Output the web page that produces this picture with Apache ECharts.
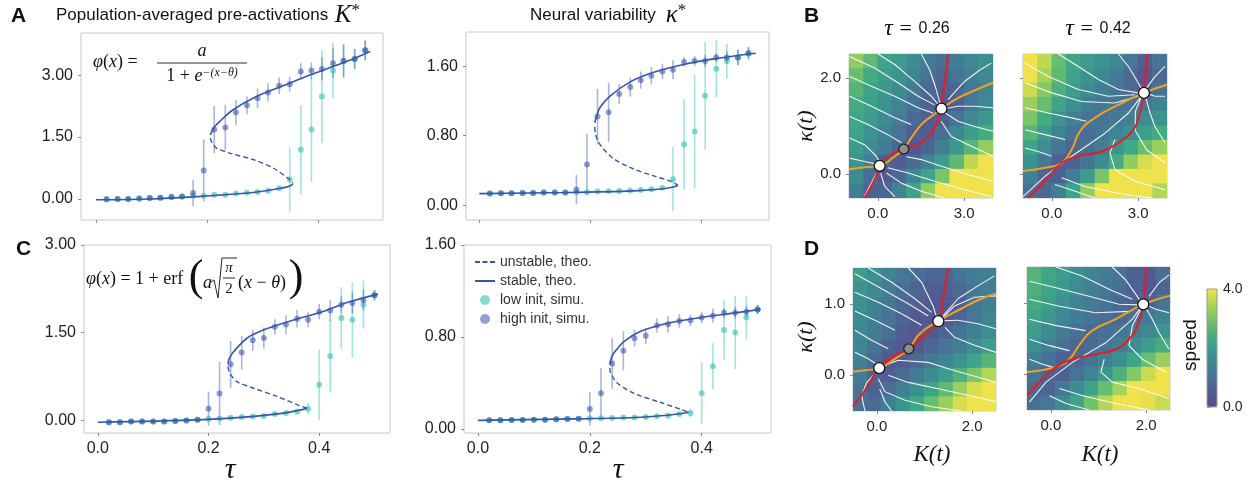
<!DOCTYPE html>
<html>
<head>
<meta charset="utf-8">
<script src="https://cdn.jsdelivr.net/npm/echarts@6/dist/echarts.min.js"></script>
<style>
  html, body { margin: 0; padding: 0; background: #fff; }
  #chart { width: 1260px; height: 483px; }
</style>
</head>
<body>
<div id="chart"></div>
<script>
// tau grids of the simulations
var tauA = [0.019, 0.039, 0.058, 0.078, 0.097, 0.116, 0.136, 0.155, 0.175, 0.194, 0.213, 0.233, 0.252,
            0.272, 0.291, 0.310, 0.330, 0.349, 0.369, 0.388, 0.407, 0.427, 0.446, 0.466, 0.485];
var tauC = [0.02, 0.04, 0.06, 0.08, 0.10, 0.12, 0.14, 0.16, 0.18, 0.20, 0.22, 0.24, 0.26,
            0.28, 0.30, 0.32, 0.34, 0.36, 0.38, 0.40, 0.42, 0.44, 0.46, 0.48, 0.50];

// A, K*  (sigmoid)
var aK_lowMean  = [-0.01, 0.0, 0.0, 0.01, 0.02, 0.03, 0.05, 0.06, 0.08, 0.08, 0.10, 0.10, 0.13, 0.15, 0.17, 0.20, 0.26, 0.47, 1.19, 1.68, 2.48, 3.11, 3.33, 3.39, 3.60];
var aK_lowErr   = [0.02, 0.02, 0.02, 0.02, 0.02, 0.02, 0.02, 0.02, 0.03, 0.03, 0.03, 0.03, 0.03, 0.03, 0.04, 0.04, 0.05, 0.77, 1.08, 1.26, 1.13, 0.67, 0.40, 0.24, 0.24];
var aK_highMean = [-0.01, 0.0, 0.0, 0.01, 0.02, 0.03, 0.05, 0.06, 0.145, 0.69, 1.68, 1.73, 2.10, 2.27, 2.44, 2.58, 2.74, 2.78, 3.09, 3.11, 3.15, 3.29, 3.35, 3.39, 3.60];
var aK_highErr  = [0.02, 0.02, 0.02, 0.02, 0.02, 0.02, 0.02, 0.02, 0.32, 0.75, 0.57, 0.55, 0.30, 0.22, 0.24, 0.22, 0.20, 0.18, 0.20, 0.20, 0.28, 0.36, 0.40, 0.24, 0.24];
var aK_stableLow  = [[0, -0.02], [0.1, 0.0], [0.175, 0.05], [0.25, 0.12], [0.29, 0.17], [0.333, 0.26], [0.348, 0.31], [0.355, 0.36]];
var aK_stableHigh = [[0.206, 1.55], [0.212, 1.72], [0.223, 1.88], [0.247, 2.16], [0.289, 2.48], [0.337, 2.74], [0.385, 3.0], [0.427, 3.21], [0.463, 3.39], [0.494, 3.57]];
var aK_unstable   = [[0.206, 1.47], [0.209, 1.36], [0.217, 1.23], [0.241, 1.11], [0.284, 0.95], [0.319, 0.75], [0.349, 0.47], [0.355, 0.38]];

// A, kappa*
var aV_lowMean  = [0.134, 0.138, 0.138, 0.142, 0.142, 0.146, 0.146, 0.146, 0.15, 0.15, 0.157, 0.16, 0.165, 0.17, 0.176, 0.184, 0.20, 0.30, 0.70, 0.85, 1.26, 1.57, 1.66, 1.70, 1.75];
var aV_lowErr   = [0.01, 0.01, 0.01, 0.01, 0.01, 0.01, 0.01, 0.01, 0.02, 0.02, 0.02, 0.02, 0.02, 0.02, 0.02, 0.02, 0.02, 0.37, 0.52, 0.65, 0.62, 0.33, 0.20, 0.09, 0.07];
var aV_highMean = [0.134, 0.138, 0.138, 0.142, 0.142, 0.146, 0.146, 0.146, 0.18, 0.47, 1.02, 1.07, 1.28, 1.36, 1.44, 1.49, 1.54, 1.56, 1.65, 1.66, 1.66, 1.70, 1.70, 1.70, 1.75];
var aV_highErr  = [0.01, 0.01, 0.01, 0.01, 0.01, 0.01, 0.01, 0.01, 0.17, 0.35, 0.32, 0.34, 0.115, 0.11, 0.10, 0.10, 0.09, 0.11, 0.06, 0.06, 0.07, 0.05, 0.07, 0.09, 0.07];
var aV_stableLow  = [[0, 0.134], [0.158, 0.146], [0.278, 0.165], [0.332, 0.19], [0.350, 0.21], [0.358, 0.23]];
var aV_stableHigh = [[0.208, 0.95], [0.211, 1.02], [0.218, 1.13], [0.236, 1.26], [0.272, 1.42], [0.314, 1.53], [0.368, 1.62], [0.428, 1.69], [0.498, 1.75]];
var aV_unstable   = [[0.208, 0.90], [0.209, 0.83], [0.213, 0.75], [0.222, 0.66], [0.241, 0.54], [0.277, 0.42], [0.313, 0.34], [0.343, 0.28], [0.358, 0.23]];

// C, K*  (erf)
var cK_lowMean  = [-0.03, -0.03, -0.02, -0.02, -0.02, -0.02, -0.01, 0.0, 0.01, 0.03, 0.034, 0.045, 0.057, 0.068, 0.074, 0.108, 0.125, 0.15, 0.20, 0.61, 1.10, 1.75, 1.72, 1.98, 2.14];
var cK_lowErr   = [0.02, 0.02, 0.02, 0.02, 0.02, 0.02, 0.02, 0.02, 0.02, 0.03, 0.03, 0.03, 0.03, 0.03, 0.03, 0.03, 0.03, 0.03, 0.10, 0.60, 0.62, 0.53, 0.64, 0.41, 0.09];
var cK_highMean = [-0.03, -0.03, -0.02, -0.02, -0.02, -0.02, -0.01, 0.0, 0.01, 0.20, 0.46, 0.96, 1.16, 1.37, 1.41, 1.60, 1.64, 1.74, 1.72, 1.86, 1.88, 1.98, 2.01, 2.06, 2.14];
var cK_highErr  = [0.02, 0.02, 0.02, 0.02, 0.02, 0.02, 0.02, 0.02, 0.02, 0.29, 0.54, 0.40, 0.29, 0.18, 0.18, 0.13, 0.16, 0.15, 0.13, 0.13, 0.18, 0.14, 0.18, 0.18, 0.09];
var cK_stableLow  = [[0, -0.03], [0.179, 0.01], [0.282, 0.07], [0.336, 0.125], [0.367, 0.18], [0.378, 0.21]];
var cK_stableHigh = [[0.235, 0.97], [0.238, 1.07], [0.245, 1.17], [0.27, 1.41], [0.306, 1.57], [0.355, 1.72], [0.403, 1.85], [0.452, 2.02], [0.506, 2.16]];
var cK_unstable   = [[0.235, 0.92], [0.239, 0.80], [0.252, 0.66], [0.282, 0.55], [0.324, 0.41], [0.36, 0.27], [0.378, 0.21]];

// C, kappa*
var cV_lowMean  = [0.075, 0.075, 0.078, 0.078, 0.081, 0.081, 0.084, 0.087, 0.09, 0.093, 0.093, 0.096, 0.10, 0.10, 0.104, 0.11, 0.116, 0.13, 0.14, 0.31, 0.545, 0.86, 0.84, 0.97, 1.04];
var cV_lowErr   = [0.01, 0.01, 0.01, 0.01, 0.01, 0.01, 0.01, 0.01, 0.01, 0.015, 0.015, 0.015, 0.015, 0.015, 0.015, 0.015, 0.015, 0.015, 0.04, 0.27, 0.20, 0.26, 0.32, 0.19, 0.04];
var cV_highMean = [0.075, 0.075, 0.078, 0.078, 0.081, 0.081, 0.084, 0.087, 0.09, 0.174, 0.31, 0.57, 0.68, 0.79, 0.81, 0.90, 0.91, 0.94, 0.945, 0.97, 0.985, 1.01, 1.01, 1.02, 1.04];
var cV_highErr  = [0.01, 0.01, 0.01, 0.01, 0.01, 0.01, 0.01, 0.01, 0.01, 0.145, 0.22, 0.22, 0.17, 0.075, 0.07, 0.06, 0.07, 0.06, 0.05, 0.05, 0.06, 0.04, 0.05, 0.05, 0.04];
var cV_stableLow  = [[0, 0.075], [0.198, 0.09], [0.279, 0.10], [0.339, 0.12], [0.365, 0.135], [0.377, 0.145]];
var cV_stableHigh = [[0.236, 0.56], [0.238, 0.61], [0.243, 0.66], [0.261, 0.76], [0.291, 0.85], [0.339, 0.92], [0.4, 0.97], [0.46, 1.01], [0.505, 1.04]];
var cV_unstable   = [[0.236, 0.53], [0.237, 0.49], [0.249, 0.40], [0.279, 0.31], [0.327, 0.23], [0.363, 0.17], [0.377, 0.145]];

// speed fields, rows top -> bottom, cols left -> right
var speedB1 = [
  [3.2, 2.7, 2.2, 2.0, 1.6, 1.2, 0.9, 1.2, 1.5, 1.7],
  [2.8, 2.4, 2.0, 1.8, 1.4, 1.0, 0.7, 1.0, 1.3, 1.5],
  [2.6, 2.2, 1.9, 1.6, 1.2, 0.8, 0.5, 0.7, 1.1, 1.4],
  [2.4, 2.1, 1.8, 1.4, 1.0, 0.6, 0.3, 0.6, 1.1, 1.5],
  [2.3, 2.0, 1.6, 1.2, 0.8, 0.5, 0.6, 1.0, 1.5, 1.9],
  [2.2, 1.8, 1.4, 1.0, 0.5, 0.5, 0.9, 1.5, 2.0, 2.4],
  [2.0, 1.6, 1.2, 0.7, 0.3, 0.7, 1.3, 1.9, 2.6, 3.2],
  [1.8, 1.3, 0.7, 0.5, 0.8, 1.4, 2.0, 2.7, 3.6, 4.0],
  [1.6, 0.9, 0.4, 0.8, 1.5, 2.2, 3.0, 4.0, 4.0, 4.0],
  [1.3, 0.7, 0.7, 1.4, 2.2, 3.2, 4.0, 4.0, 4.0, 4.0]
];
var speedB2 = [
  [4.0, 3.6, 2.8, 2.3, 2.0, 1.8, 1.5, 1.1, 0.6, 1.0],
  [4.0, 3.4, 2.7, 2.2, 1.8, 1.5, 1.2, 0.8, 0.3, 0.8],
  [3.7, 3.1, 2.5, 2.0, 1.6, 1.3, 1.0, 0.8, 0.6, 1.0],
  [3.3, 2.8, 2.2, 1.7, 1.3, 1.1, 1.0, 1.0, 1.1, 1.4],
  [3.0, 2.4, 1.8, 1.3, 1.0, 1.0, 1.1, 1.3, 1.6, 1.8],
  [2.6, 2.0, 1.4, 1.0, 0.9, 1.1, 1.4, 1.7, 2.1, 2.4],
  [2.2, 1.6, 1.0, 0.7, 0.9, 1.3, 1.8, 2.3, 2.8, 3.3],
  [1.7, 1.1, 0.5, 0.6, 1.0, 1.6, 2.4, 3.2, 3.8, 4.0],
  [1.3, 0.7, 0.6, 1.2, 2.0, 3.0, 4.0, 4.0, 4.0, 4.0],
  [0.9, 0.8, 1.3, 2.2, 3.2, 4.0, 4.0, 4.0, 4.0, 3.5]
];
var speedD1 = [
  [2.0, 1.7, 1.4, 1.1, 0.9, 0.7, 0.7, 1.0, 1.2, 1.3],
  [1.8, 1.5, 1.2, 0.9, 0.7, 0.5, 0.5, 0.8, 1.1, 1.3],
  [1.7, 1.4, 1.1, 0.8, 0.6, 0.4, 0.3, 0.6, 1.0, 1.3],
  [1.6, 1.3, 1.0, 0.7, 0.4, 0.3, 0.4, 0.7, 1.1, 1.4],
  [1.5, 1.2, 0.9, 0.5, 0.3, 0.4, 0.7, 1.0, 1.3, 1.6],
  [1.4, 1.0, 0.6, 0.3, 0.4, 0.7, 1.0, 1.3, 1.6, 2.0],
  [1.3, 0.8, 0.4, 0.5, 0.8, 1.1, 1.4, 1.8, 2.2, 2.6],
  [1.2, 0.6, 0.5, 0.8, 1.2, 1.6, 2.0, 2.5, 3.0, 3.5],
  [1.0, 0.6, 0.9, 1.3, 1.7, 2.2, 2.7, 3.3, 3.8, 4.0],
  [0.9, 0.8, 1.3, 1.8, 2.3, 2.8, 3.3, 3.8, 4.0, 4.0]
];
var speedD2 = [
  [2.6, 2.3, 2.0, 1.7, 1.4, 1.2, 1.0, 0.6, 0.4, 0.9],
  [2.5, 2.2, 1.9, 1.6, 1.3, 1.1, 0.9, 0.6, 0.3, 0.7],
  [2.4, 2.1, 1.7, 1.4, 1.2, 1.0, 0.8, 0.6, 0.6, 1.0],
  [2.2, 1.9, 1.5, 1.2, 1.0, 0.9, 0.8, 0.9, 1.1, 1.4],
  [2.0, 1.6, 1.2, 0.9, 0.8, 0.9, 1.0, 1.2, 1.5, 1.8],
  [1.7, 1.3, 0.9, 0.7, 0.8, 1.0, 1.3, 1.6, 2.0, 2.4],
  [1.3, 0.9, 0.6, 0.7, 1.0, 1.3, 1.7, 2.2, 2.8, 3.3],
  [1.0, 0.6, 0.6, 1.0, 1.4, 1.9, 2.5, 3.1, 3.7, 4.0],
  [0.8, 0.7, 1.1, 1.6, 2.2, 2.8, 3.4, 4.0, 4.0, 4.0],
  [0.9, 1.1, 1.6, 2.2, 2.9, 3.5, 4.0, 4.0, 3.9, 3.7]
];

// nullclines (K(t), kappa(t))
var redB1    = [[-0.46, -0.5], [-0.11, -0.12], [0.065, 0.17], [0.35, 0.37], [0.90, 0.52], [1.40, 0.61], [1.74, 0.78], [2.03, 1.03], [2.21, 1.36], [2.30, 1.83], [2.38, 2.17], [2.44, 2.5]];
var orangeB1 = [[-1.0, 0.10], [-0.46, 0.14], [0.065, 0.17], [0.59, 0.37], [0.90, 0.52], [1.16, 0.75], [1.51, 1.03], [1.86, 1.20], [2.21, 1.36], [2.78, 1.58], [3.48, 1.77], [4.0, 1.9]];
var redB2    = [[-0.81, -0.5], [-0.24, -0.15], [0.34, 0.23], [0.92, 0.37], [1.73, 0.47], [2.31, 0.65], [2.83, 0.92], [3.06, 1.27], [3.20, 1.69], [3.26, 2.10], [3.32, 2.5]];
var orangeB2 = [[-1.0, 0.06], [-0.24, 0.13], [0.34, 0.23], [0.69, 0.51], [0.98, 0.89], [1.50, 1.17], [2.31, 1.44], [3.20, 1.69], [4.0, 1.86]];
var redD1    = [[-0.5, -0.44], [-0.25, -0.21], [0.05, 0.10], [0.31, 0.25], [0.67, 0.37], [1.01, 0.56], [1.29, 0.756], [1.39, 1.07], [1.46, 1.35], [1.50, 1.5]];
var orangeD1 = [[-0.5, 0.05], [-0.25, 0.07], [0.05, 0.10], [0.38, 0.23], [0.67, 0.37], [0.90, 0.58], [1.29, 0.756], [1.77, 0.93], [2.19, 1.07], [2.5, 1.14]];
var redD2    = [[-0.49, -0.30], [-0.17, -0.06], [0.11, 0.10], [0.46, 0.21], [0.94, 0.28], [1.36, 0.35], [1.64, 0.49], [1.82, 0.68], [1.94, 0.977], [1.98, 1.23], [2.0, 1.5]];
var orangeD2 = [[-0.5, 0.03], [-0.17, 0.06], [0.18, 0.12], [0.39, 0.21], [0.63, 0.44], [0.87, 0.61], [1.36, 0.77], [1.94, 0.977], [2.5, 1.10]];

// fixed points
var stableB1 = [[0.065, 0.17], [2.21, 1.36]], saddleB1 = [[0.90, 0.52]];
var stableB2 = [[3.20, 1.69]], saddleB2 = [];
var stableD1 = [[0.05, 0.10], [1.29, 0.756]], saddleD1 = [[0.67, 0.37]];
var stableD2 = [[1.94, 0.977]], saddleD2 = [];

// streamlines
var streamB1 = [
  [[-0.98, 2.45], [-0.11, 2.21], [0.70, 1.90], [1.40, 1.62], [1.97, 1.44]],
  [[-0.98, 2.03], [-0.22, 1.83], [0.59, 1.62], [1.40, 1.38], [1.92, 1.27]],
  [[-0.98, 1.62], [-0.22, 1.41], [0.59, 1.17], [1.16, 1.03]],
  [[-0.98, 1.20], [-0.34, 1.03], [0.35, 0.82], [0.82, 0.65]],
  [[-0.98, 0.75], [-0.46, 0.61], [-0.05, 0.37], [0.07, 0.24]],
  [[-0.98, 0.33], [-0.46, 0.26], [0.0, 0.20]],
  [[0.01, 2.5], [0.59, 2.28], [1.28, 1.93], [1.86, 1.62], [2.15, 1.41]],
  [[1.51, 2.5], [1.80, 2.17], [2.03, 1.76], [2.17, 1.44]],
  [[3.94, 2.31], [3.48, 2.14], [2.96, 1.90], [2.44, 1.55]],
  [[4.0, 1.38], [3.36, 1.41], [2.78, 1.41], [2.32, 1.36]],
  [[4.0, 0.89], [3.36, 0.99], [2.78, 1.10], [2.32, 1.28]],
  [[4.0, 0.37], [3.25, 0.58], [2.55, 0.78], [2.2, 1.10]],
  [[4.0, -0.15], [3.13, -0.01], [2.21, 0.16], [1.51, 0.30], [1.0, 0.36]],
  [[3.94, -0.47], [3.02, -0.33], [1.97, -0.15], [1.05, 0.02], [0.35, 0.13]],
  [[2.32, -0.5], [1.51, -0.36], [0.82, -0.19], [0.30, 0.02]],
  [[-0.46, -0.47], [-0.22, -0.19], [0.01, 0.09]],
  [[0.59, -0.47], [0.24, -0.26], [0.10, 0.02]]
];
var streamB2 = [
  [[-0.93, 2.31], [-0.12, 2.03], [0.92, 1.76], [1.96, 1.62], [2.89, 1.65]],
  [[-0.93, 1.90], [0.0, 1.69], [1.04, 1.51], [2.19, 1.48], [3.0, 1.62]],
  [[-0.93, 1.38], [-0.12, 1.27], [0.69, 1.17], [1.2, 1.1]],
  [[-0.93, 0.92], [-0.24, 0.82], [0.46, 0.72]],
  [[-0.93, 0.54], [-0.47, 0.47], [0.0, 0.37]],
  [[0.23, 2.5], [0.92, 2.24], [1.62, 1.97], [2.31, 1.76], [3.0, 1.69]],
  [[2.31, 2.5], [2.66, 2.24], [3.0, 1.90], [3.15, 1.73]],
  [[3.93, 2.24], [3.58, 2.03], [3.29, 1.79]],
  [[3.93, 1.62], [3.58, 1.62], [3.3, 1.68]],
  [[3.93, 0.65], [3.58, 0.99], [3.41, 1.27], [3.27, 1.58]],
  [[3.93, 0.23], [3.3, 0.5], [2.9, 0.9], [2.9, 1.3], [3.1, 1.6]],
  [[-1.0, -0.47], [-0.24, -0.05], [0.69, 0.37], [1.85, 0.85], [2.66, 1.27], [3.2, 1.69]],
  [[3.93, -0.33], [2.89, -0.15], [2.19, 0.09], [2.02, 0.44], [2.19, 0.72]],
  [[3.47, -0.5], [2.31, -0.40], [1.15, -0.26], [0.34, -0.08]],
  [[1.50, -0.5], [0.81, -0.36], [0.11, -0.22]]
];
var streamD1 = [
  [[-0.46, 1.42], [0.10, 1.21], [0.66, 1.0], [1.08, 0.83]],
  [[-0.46, 1.16], [0.03, 1.02], [0.52, 0.86], [0.94, 0.70]],
  [[-0.46, 0.90], [-0.04, 0.77], [0.38, 0.63]],
  [[-0.46, 0.63], [-0.11, 0.49], [0.24, 0.37]],
  [[-0.46, 0.32], [-0.18, 0.23], [0.03, 0.14]],
  [[-0.18, 1.5], [0.31, 1.30], [0.80, 1.07], [1.15, 0.88]],
  [[0.66, 1.5], [0.94, 1.30], [1.18, 0.97], [1.26, 0.80]],
  [[2.47, 1.39], [2.12, 1.25], [1.70, 1.07], [1.39, 0.83]],
  [[2.5, 1.11], [2.05, 1.09], [1.63, 0.97], [1.39, 0.81]],
  [[2.5, 0.65], [2.12, 0.72], [1.70, 0.77], [1.36, 0.76]],
  [[2.5, 0.32], [2.05, 0.42], [1.63, 0.53], [1.43, 0.67]],
  [[2.5, -0.10], [1.98, 0.0], [1.50, 0.09], [1.08, 0.18], [0.45, 0.21], [0.17, 0.14]],
  [[2.5, -0.37], [1.91, -0.28], [1.29, -0.19], [0.66, -0.10], [0.24, 0.0]],
  [[1.77, -0.5], [1.15, -0.44], [0.59, -0.35], [0.17, -0.23], [0.03, -0.05]],
  [[-0.25, -0.5], [-0.32, -0.28], [-0.21, -0.10], [0.0, 0.05]],
  [[0.31, -0.5], [0.17, -0.37], [0.06, -0.19]]
];
var streamD2 = [
  [[-0.45, 1.30], [0.11, 1.21], [0.80, 1.09], [1.43, 0.98], [1.85, 0.97]],
  [[-0.45, 1.05], [0.18, 0.95], [0.94, 0.86], [1.64, 0.88]],
  [[-0.45, 0.77], [0.11, 0.68], [0.73, 0.61]],
  [[-0.45, 0.49], [-0.03, 0.40], [0.39, 0.33]],
  [[-0.45, 0.21], [-0.17, 0.14], [0.03, 0.10]],
  [[0.11, 1.5], [0.67, 1.37], [1.22, 1.19], [1.71, 1.05]],
  [[1.29, 1.5], [1.57, 1.32], [1.78, 1.12], [1.90, 1.0]],
  [[2.48, 1.39], [2.27, 1.28], [2.06, 1.09]],
  [[2.48, 0.86], [2.20, 0.91], [2.0, 0.97]],
  [[2.48, 0.35], [2.27, 0.58], [2.13, 0.77], [2.0, 0.92]],
  [[2.41, 0.03], [1.92, 0.21], [1.64, 0.40], [1.71, 0.68], [1.88, 0.9]],
  [[-0.45, -0.39], [-0.10, -0.11], [0.46, 0.17], [1.15, 0.44], [1.71, 0.77], [1.94, 0.98]],
  [[2.48, -0.34], [1.85, -0.20], [1.29, -0.11], [1.05, 0.03], [1.12, 0.21]],
  [[2.06, -0.5], [1.36, -0.41], [0.67, -0.30], [0.18, -0.20]],
  [[0.80, -0.5], [0.32, -0.41], [-0.03, -0.30]]
];

var SANS = 'Liberation Sans, Arial, sans-serif';
var SERIF = 'Liberation Serif, DejaVu Serif, serif';
var LINE_C = '#3557ab';
var LOW_C = 'rgba(50,195,175,0.75)';
var HIGH_C = 'rgba(30,55,160,0.6)';
var LOW_BAR = 'rgba(50,195,175,0.45)';
var HIGH_BAR = 'rgba(40,70,170,0.4)';

var chart = echarts.init(document.getElementById('chart'));

var grids = [], xAxes = [], yAxes = [], series = [], heatIdx = [];

function addGrid(box, xr, yr, xTicks, yTicks, xFmt, yFmt, showXLab, showYLab, fs) {
  var gi = grids.length;
  grids.push({left: box[0], top: box[1], width: box[2], height: box[3], show: true,
              borderColor: '#c8c8c8', borderWidth: 1, backgroundColor: 'transparent'});
  xAxes.push({gridIndex: gi, type: 'value', min: xr[0], max: xr[1], position: 'bottom',
    axisLine: {show: false, onZero: false}, splitLine: {show: false},
    axisTick: {show: true, length: 3, customValues: xTicks, lineStyle: {color: '#888'}},
    axisLabel: {show: showXLab, customValues: xTicks, margin: 8, fontSize: fs, color: '#222', fontFamily: SANS,
                formatter: function (v) { return v.toFixed(xFmt); }}});
  yAxes.push({gridIndex: gi, type: 'value', min: yr[0], max: yr[1], position: 'left',
    axisLine: {show: false, onZero: false}, splitLine: {show: false},
    axisTick: {show: true, length: 3, customValues: yTicks, lineStyle: {color: '#888'}},
    axisLabel: {show: showYLab, customValues: yTicks, margin: 8, fontSize: fs, color: '#222', fontFamily: SANS,
                formatter: function (v) { return v.toFixed(yFmt); }}});
  return gi;
}

function errBars(gi, name, tau, mean, err, color) {
  var data = tau.map(function (t, i) { return [t, mean[i], err[i]]; });
  series.push({type: 'custom', name: name, xAxisIndex: gi, yAxisIndex: gi, silent: true, clip: true,
    renderItem: function (params, api) {
      var p1 = api.coord([api.value(0), api.value(1) - api.value(2)]);
      var p2 = api.coord([api.value(0), api.value(1) + api.value(2)]);
      return {type: 'line', shape: {x1: p1[0], y1: p1[1], x2: p2[0], y2: p2[1]},
              style: {stroke: color, lineWidth: 1.6}};
    }, data: data});
}

function curvePanel(gi, tau, lowM, lowE, highM, highE, stLow, stHigh, unst) {
  errBars(gi, 'low err', tau, lowM, lowE, LOW_BAR);
  errBars(gi, 'high err', tau, highM, highE, HIGH_BAR);
  series.push({type: 'line', name: 'unstable, theo.', xAxisIndex: gi, yAxisIndex: gi, data: unst, smooth: 0.3,
    symbol: 'none', lineStyle: {color: LINE_C, width: 1.4, type: [5, 3]}, itemStyle: {color: LINE_C}});
  series.push({type: 'line', name: 'stable, theo.', xAxisIndex: gi, yAxisIndex: gi, data: stLow, smooth: 0.3,
    symbol: 'none', lineStyle: {color: LINE_C, width: 1.6}, itemStyle: {color: LINE_C}});
  series.push({type: 'line', name: 'stable, theo.', xAxisIndex: gi, yAxisIndex: gi, data: stHigh, smooth: 0.3,
    symbol: 'none', lineStyle: {color: LINE_C, width: 1.6}, itemStyle: {color: LINE_C}});
  series.push({type: 'scatter', name: 'low init, simu.', xAxisIndex: gi, yAxisIndex: gi, symbolSize: 6,
    itemStyle: {color: LOW_C}, data: tau.map(function (t, i) { return [t, lowM[i]]; })});
  series.push({type: 'scatter', name: 'high init, simu.', xAxisIndex: gi, yAxisIndex: gi, symbolSize: 6,
    itemStyle: {color: HIGH_C}, data: tau.map(function (t, i) { return [t, highM[i]]; })});
}

function cells(rows, xr, yr) {
  var n = rows.length, m = rows[0].length;
  var dx = (xr[1] - xr[0]) / m, dy = (yr[1] - yr[0]) / n, out = [];
  rows.forEach(function (row, r) {
    row.forEach(function (v, c) {
      out.push([xr[0] + (c + 0.5) * dx, yr[1] - (r + 0.5) * dy, v, dx, dy]);
    });
  });
  return out;
}

function fieldPanel(gi, rows, xr, yr, streams, red, orange, stable, saddle) {
  heatIdx.push(series.length);
  series.push({type: 'custom', xAxisIndex: gi, yAxisIndex: gi, silent: true, clip: true, z: 1,
    encode: {x: 0, y: 1},
    renderItem: function (params, api) {
      var c = api.coord([api.value(0), api.value(1)]);
      var s = api.size([api.value(3), api.value(4)]);
      return {type: 'rect', shape: {x: c[0] - s[0] / 2 - 0.3, y: c[1] - s[1] / 2 - 0.3, width: s[0] + 0.6, height: s[1] + 0.6},
              style: {fill: api.visual('color')}};
    }, data: cells(rows, xr, yr)});
  var first = [], second = [];
  streams.forEach(function (pts) {
    var m = Math.ceil((pts.length - 1) / 2);
    first.push({coords: pts.slice(0, m + 1)});
    second.push({coords: pts.slice(m)});
  });
  series.push({type: 'lines', coordinateSystem: 'cartesian2d', xAxisIndex: gi, yAxisIndex: gi, polyline: true,
    silent: true, symbol: ['none', 'arrow'], symbolSize: 7, z: 2,
    lineStyle: {color: '#ffffff', width: 1.1, opacity: 0.9, curveness: 0}, data: first});
  series.push({type: 'lines', coordinateSystem: 'cartesian2d', xAxisIndex: gi, yAxisIndex: gi, polyline: true,
    silent: true, symbol: 'none', z: 2,
    lineStyle: {color: '#ffffff', width: 1.1, opacity: 0.9, curveness: 0}, data: second});
  series.push({type: 'line', xAxisIndex: gi, yAxisIndex: gi, data: orange, smooth: true, symbol: 'none', z: 3,
    lineStyle: {color: '#f0a21e', width: 2}, silent: true});
  series.push({type: 'line', xAxisIndex: gi, yAxisIndex: gi, data: red, smooth: true, symbol: 'none', z: 4,
    lineStyle: {color: '#e41d25', width: 2}, silent: true});
  series.push({type: 'scatter', xAxisIndex: gi, yAxisIndex: gi, data: saddle, symbolSize: 10, silent: true, z: 8,
    itemStyle: {color: '#8e8e8e', borderColor: '#222', borderWidth: 1.3, opacity: 1}});
  series.push({type: 'scatter', xAxisIndex: gi, yAxisIndex: gi, data: stable, symbolSize: 11, silent: true, z: 8,
    itemStyle: {color: '#ffffff', borderColor: '#111', borderWidth: 1.3, opacity: 1}});
}

// curve panels
var gA1 = addGrid([81, 33, 302, 187], [-0.027, 0.517], [-0.51, 4.02], [0, 0.2, 0.4], [0, 1.5, 3.0], 1, 2, false, true, 16);
var gA2 = addGrid([466, 32, 303, 188], [-0.024, 0.522], [-0.17, 1.994], [0, 0.2, 0.4], [0, 0.8, 1.6], 1, 2, false, true, 16);
var gC1 = addGrid([84, 245, 306, 188], [-0.025, 0.528], [-0.215, 3.0], [0, 0.2, 0.4], [0, 1.5, 3.0], 1, 2, true, true, 16);
var gC2 = addGrid([464, 245, 307, 188], [-0.025, 0.524], [-0.035, 1.6], [0, 0.2, 0.4], [0, 0.8, 1.6], 1, 2, true, true, 16);
curvePanel(gA1, tauA, aK_lowMean, aK_lowErr, aK_highMean, aK_highErr, aK_stableLow, aK_stableHigh, aK_unstable);
curvePanel(gA2, tauA, aV_lowMean, aV_lowErr, aV_highMean, aV_highErr, aV_stableLow, aV_stableHigh, aV_unstable);
curvePanel(gC1, tauC, cK_lowMean, cK_lowErr, cK_highMean, cK_highErr, cK_stableLow, cK_stableHigh, cK_unstable);
curvePanel(gC2, tauC, cV_lowMean, cV_lowErr, cV_highMean, cV_highErr, cV_stableLow, cV_stableHigh, cV_unstable);

// phase planes
var xrB = [-1, 4], yrB = [-0.5, 2.5], xrD = [-0.5, 2.5], yrD = [-0.5, 1.5];
var gB1 = addGrid([849, 54, 144, 144], xrB, yrB, [0, 3], [0, 2], 1, 1, true, true, 15);
var gB2 = addGrid([1023, 54, 144, 144], xrB, yrB, [0, 3], [0, 2], 1, 1, true, false, 15);
var gD1 = addGrid([853, 268, 143, 143], xrD, yrD, [0, 2], [0, 1], 1, 1, true, true, 15);
var gD2 = addGrid([1027, 267, 143, 143], xrD, yrD, [0, 2], [0, 1], 1, 1, true, false, 15);
fieldPanel(gB1, speedB1, xrB, yrB, streamB1, redB1, orangeB1, stableB1, saddleB1);
fieldPanel(gB2, speedB2, xrB, yrB, streamB2, redB2, orangeB2, stableB2, saddleB2);
fieldPanel(gD1, speedD1, xrD, yrD, streamD1, redD1, orangeD1, stableD1, saddleD1);
fieldPanel(gD2, speedD2, xrD, yrD, streamD2, redD2, orangeD2, stableD2, saddleD2);

// colorbar axis
var gCb = grids.length;
grids.push({left: 1207, top: 289, width: 10, height: 118, show: true, borderColor: '#999', borderWidth: 1, backgroundColor: 'transparent', z: 10});
xAxes.push({gridIndex: gCb, type: 'value', show: false, min: 0, max: 1});
yAxes.push({gridIndex: gCb, type: 'value', min: 0, max: 4, position: 'right',
  axisLine: {show: false}, splitLine: {show: false},
  axisTick: {show: true, length: 3, customValues: [0, 4], lineStyle: {color: '#888'}},
  axisLabel: {customValues: [0, 4], margin: 6, fontSize: 14, color: '#222', fontFamily: SANS,
              formatter: function (v) { return v.toFixed(1); }}});
series.push({type: 'scatter', xAxisIndex: gCb, yAxisIndex: gCb, data: []});

var viridisLike = ['#5a4d8f', '#4f6093', '#437a95', '#3b9191', '#3ea686', '#6cbf6d', '#a9d458', '#efe24c'];

function rt(x, y, text, rich, extra) {
  var el = {type: 'text', x: x, y: y, z: 100, style: {text: text, rich: rich, fill: '#111',
            align: 'left', verticalAlign: 'middle'}};
  if (extra) { for (var k in extra) { if (k === 'style') { for (var s in extra.style) el.style[s] = extra.style[s]; } else el[k] = extra[k]; } }
  return el;
}
var richMath = {
  i: {fontFamily: SERIF, fontStyle: 'italic', fontSize: 18, color: '#111'},
  r: {fontFamily: SERIF, fontSize: 18, color: '#111'},
  s: {fontFamily: SERIF, fontStyle: 'italic', fontSize: 12, color: '#111', verticalAlign: 'top', lineHeight: 16}
};

var graphics = [
  rt(11, 16, 'A', null, {style: {font: 'bold 21px ' + SANS}}),
  rt(804, 16, 'B', null, {style: {font: 'bold 21px ' + SANS}}),
  rt(16, 249, 'C', null, {style: {font: 'bold 21px ' + SANS}}),
  rt(804, 249, 'D', null, {style: {font: 'bold 21px ' + SANS}}),
  rt(56, 15, '{t|Population-averaged pre-activations}  {k|K}{s|*}', {
    t: {fontFamily: SANS, fontSize: 17, color: '#111'},
    k: {fontFamily: SERIF, fontStyle: 'italic', fontSize: 25, color: '#111'},
    s: {fontFamily: SERIF, fontSize: 17, color: '#111', verticalAlign: 'top'}}),
  rt(530, 15, '{t|Neural variability}   {k|κ}{s|*}', {
    t: {fontFamily: SANS, fontSize: 17, color: '#111'},
    k: {fontFamily: SERIF, fontStyle: 'italic', fontSize: 25, color: '#111'},
    s: {fontFamily: SERIF, fontSize: 17, color: '#111', verticalAlign: 'top'}}),
  // sigmoid formula
  rt(93, 62, '{i|φ}{r|(}{i|x}{r|) =}', richMath),
  rt(202, 51, '{i|a}', richMath, {style: {align: 'center'}}),
  {type: 'line', z: 100, shape: {x1: 157, y1: 63, x2: 247, y2: 63}, style: {stroke: '#333', lineWidth: 1.1}},
  rt(202, 76, '{r|1 + }{i|e}{s|−(x−θ)}', richMath, {style: {align: 'center'}}),
  // erf formula
  rt(86, 279, '{i|φ}{r|(}{i|x}{r|) = 1 + erf}', richMath),
  rt(196, 278, '(', null, {style: {font: '44px ' + SERIF, align: 'center'}}),
  rt(203, 283, '{i|a}', richMath),
  {type: 'polyline', z: 100, shape: {points: [[211, 282], [214, 280], [218, 298], [222, 258], [237, 258]]},
   style: {stroke: '#222', lineWidth: 1, fill: null}},
  rt(229, 268, '{i|π}', {i: {fontFamily: SERIF, fontStyle: 'italic', fontSize: 15, color: '#111'}}, {style: {align: 'center'}}),
  {type: 'line', z: 100, shape: {x1: 223, y1: 278, x2: 235, y2: 278}, style: {stroke: '#222', lineWidth: 1}},
  rt(229, 289, '2', null, {style: {font: '15px ' + SERIF, align: 'center'}}),
  rt(238, 283, '{r|(}{i|x}{r| − }{i|θ}{r|)}', richMath),
  rt(296, 278, ')', null, {style: {font: '44px ' + SERIF, align: 'center'}}),
  // tau axis names
  rt(230, 470, 'τ', null, {style: {font: 'italic 30px ' + SERIF, align: 'center'}}),
  rt(618, 470, 'τ', null, {style: {font: 'italic 30px ' + SERIF, align: 'center'}}),
  // phase plane titles
  rt(917, 29, '{m|τ}  {e|=}  {n|0.26}', {
    m: {fontFamily: SERIF, fontStyle: 'italic', fontSize: 24, color: '#111'},
    e: {fontFamily: SERIF, fontSize: 22, color: '#111'},
    n: {fontFamily: SANS, fontSize: 16, color: '#111'}}, {style: {align: 'center'}}),
  rt(1098, 29, '{m|τ}  {e|=}  {n|0.42}', {
    m: {fontFamily: SERIF, fontStyle: 'italic', fontSize: 24, color: '#111'},
    e: {fontFamily: SERIF, fontSize: 22, color: '#111'},
    n: {fontFamily: SANS, fontSize: 16, color: '#111'}}, {style: {align: 'center'}}),
  rt(806, 126, 'κ(t)', null, {rotation: Math.PI / 2, style: {font: 'italic 22px ' + SERIF, align: 'center'}}),
  rt(806, 337, 'κ(t)', null, {rotation: Math.PI / 2, style: {font: 'italic 22px ' + SERIF, align: 'center'}}),
  rt(932, 455, 'K(t)', null, {style: {font: 'italic 23px ' + SERIF, align: 'center'}}),
  rt(1100, 455, 'K(t)', null, {style: {font: 'italic 23px ' + SERIF, align: 'center'}}),
  rt(1191, 345, 'speed', null, {rotation: Math.PI / 2, style: {font: '19px ' + SANS, align: 'center'}})
];

chart.setOption({
  animation: false,
  backgroundColor: '#ffffff',
  grid: grids,
  xAxis: xAxes,
  yAxis: yAxes,
  legend: {
    left: 470, top: 250, orient: 'vertical', itemGap: 5, itemWidth: 20, itemHeight: 10,
    textStyle: {fontSize: 14, color: '#333', fontFamily: SANS},
    data: [
      {name: 'unstable, theo.', icon: 'path://M0,4h5v2h-5zM7.5,4h5v2h-5zM15,4h5v2h-5z', itemStyle: {color: LINE_C}},
      {name: 'stable, theo.', icon: 'path://M0,4h20v2h-20z', itemStyle: {color: LINE_C}},
      {name: 'low init, simu.', icon: 'circle'},
      {name: 'high init, simu.', icon: 'circle'}]
  },
  visualMap: [{
    type: 'continuous', min: 0, max: 4, dimension: 2, seriesIndex: heatIdx,
    inRange: {color: viridisLike}, show: true, left: 1207, top: 289,
    itemWidth: 10, itemHeight: 118, padding: 0, calculable: false, hoverLink: false
  }],
  graphic: graphics,
  series: series
});
</script>
</body>
</html>
